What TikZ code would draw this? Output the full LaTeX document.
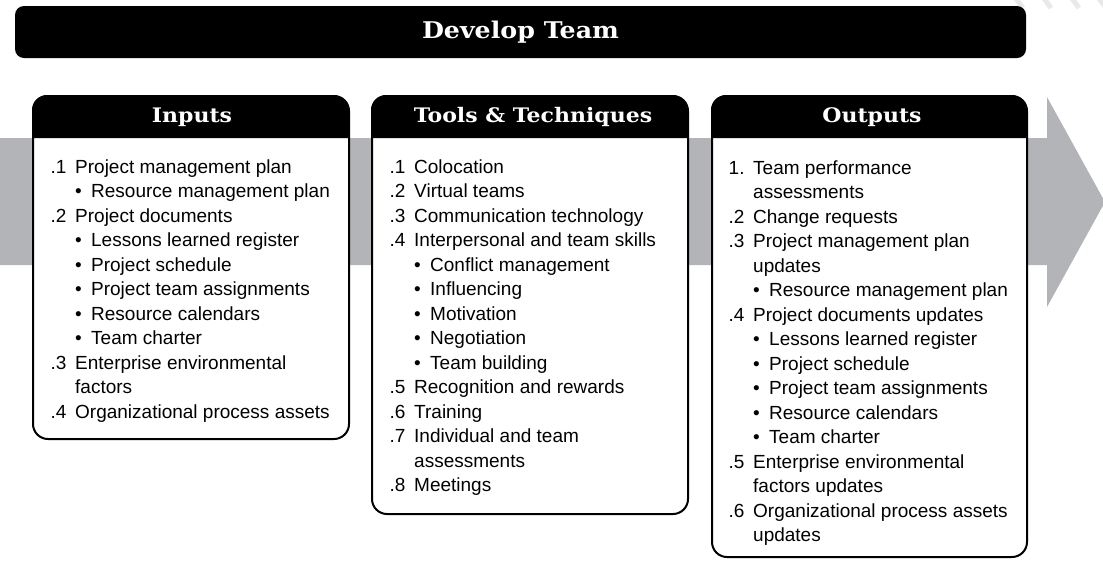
\documentclass[tikz,border=0pt]{standalone}
\usepackage{fontspec}
\setmainfont{Liberation Sans}
\newfontfamily\headfont{DejaVu Serif}[FakeStretch=1.1]
\definecolor{arrowgray}{RGB}{178,180,183}
\definecolor{stripegray}{RGB}{232,233,235}
\newlength\numw
\setlength\numw{24.5pt}
\newcommand\nm[1]{\makebox[0pt][r]{\makebox[\numw][l]{#1}}}
\newcommand\bl{\hspace*{16pt}\makebox[0pt][r]{\textbullet\hspace{9.5pt}}}
\tikzset{
  panel/.style={draw=black, line width=2pt, fill=white, rounded corners=15pt, inner sep=0pt, anchor=north west},
  headtxt/.style={text=white, font=\headfont\bfseries\fontsize{20}{22}\selectfont, inner sep=0pt},
  titlebar/.style={fill=black, rounded corners=9pt, text=white, font=\headfont\bfseries\fontsize{23}{25}\selectfont, inner sep=0pt},
  listtxt/.style={inner sep=0pt, anchor=base west, font=\fontsize{19}{24.5}\selectfont},
}
\begin{document}
\begin{tikzpicture}[x=1pt, y=-1pt]
\useasboundingbox (0,0) rectangle (1103,560);
% faint stripes top right
\foreach \sx in {1015,1043,1071,1098}
  \draw[stripegray, line width=5pt] (\sx,-3) -- (\sx+8,8);
% big arrow
\fill[arrowgray] (0,138) -- (1047,138) -- (1047,97) -- (1105,202) -- (1047,307) -- (1047,265) -- (0,265) -- cycle;
% title
\node[titlebar, minimum width=1011pt, minimum height=52pt] (title) at (520.5,32) {Develop Team};
% panels
\node[panel, minimum width=316pt, minimum height=343pt] (inbox) at (32,95) {};
\node[panel, minimum width=316pt, minimum height=418pt] (toolbox) at (371,95) {};
\node[panel, minimum width=315pt, minimum height=461pt] (outbox) at (711,95) {};
% headers
\fill[black, rounded corners=15pt] (32,138) -- (32,95) -- (348,95) [sharp corners] -- (348,138) -- cycle;
\fill[black, rounded corners=15pt] (371,138) -- (371,95) -- (687,95) [sharp corners] -- (687,138) -- cycle;
\fill[black, rounded corners=15pt] (711,138) -- (711,95) -- (1026,95) [sharp corners] -- (1026,138) -- cycle;
\node[headtxt] (inhead) at (192,117) {Inputs};
\node[headtxt] (toolhead) at (533,117) {Tools \& Techniques};
\node[headtxt] (outhead) at (872,117) {Outputs};
% lists
\node[listtxt] (inlist) at (75,173) {\begin{tabular}[t]{@{}l@{}}
\nm{.1}Project management plan\\
\bl Resource management plan\\
\nm{.2}Project documents\\
\bl Lessons learned register\\
\bl Project schedule\\
\bl Project team assignments\\
\bl Resource calendars\\
\bl Team charter\\
\nm{.3}Enterprise environmental\\
factors\\
\nm{.4}Organizational process assets
\end{tabular}};
\node[listtxt] (toollist) at (414,173) {\begin{tabular}[t]{@{}l@{}}
\nm{.1}Colocation\\
\nm{.2}Virtual teams\\
\nm{.3}Communication technology\\
\nm{.4}Interpersonal and team skills\\
\bl Conflict management\\
\bl Influencing\\
\bl Motivation\\
\bl Negotiation\\
\bl Team building\\
\nm{.5}Recognition and rewards\\
\nm{.6}Training\\
\nm{.7}Individual and team\\
assessments\\
\nm{.8}Meetings
\end{tabular}};
\node[listtxt] (outlist) at (753,174) {\begin{tabular}[t]{@{}l@{}}
\nm{1.}Team performance\\
assessments\\
\nm{.2}Change requests\\
\nm{.3}Project management plan\\
updates\\
\bl Resource management plan\\
\nm{.4}Project documents updates\\
\bl Lessons learned register\\
\bl Project schedule\\
\bl Project team assignments\\
\bl Resource calendars\\
\bl Team charter\\
\nm{.5}Enterprise environmental\\
factors updates\\
\nm{.6}Organizational process assets\\
updates
\end{tabular}};
\end{tikzpicture}
\end{document}
